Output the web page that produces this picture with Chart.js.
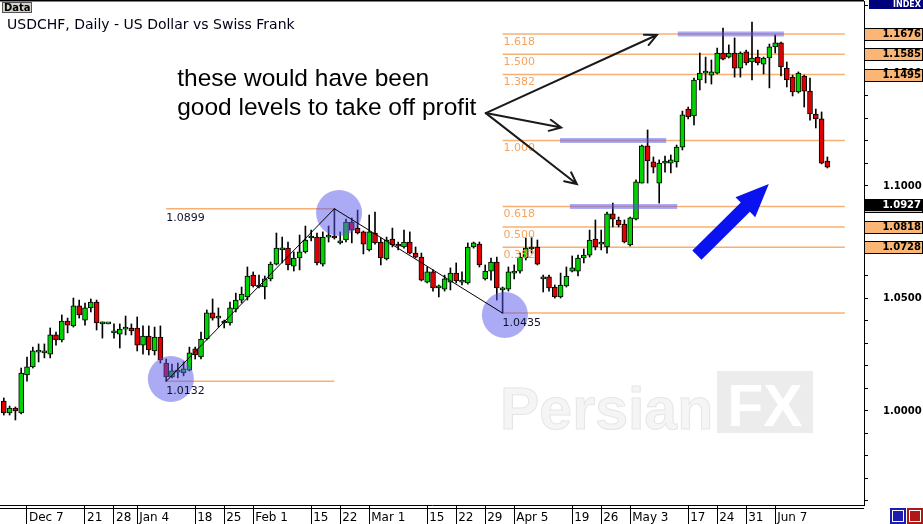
<!DOCTYPE html>
<html>
<head>
<meta charset="utf-8">
<title>USDCHF, Daily</title>
<script src="https://cdn.jsdelivr.net/npm/chart.js@4.4.1/dist/chart.umd.min.js"></script>
<style>
  html, body { margin: 0; padding: 0; background: #fff; }
  #wrap { width: 923px; height: 524px; }
</style>
</head>
<body>
<div id="wrap"><canvas id="fxChart" width="923" height="524"></canvas></div>
<script>
// one bar per trading day, bar 0 = Tue 1 Dec 2009 (no bar on 1 Jan)
var opens = [
  1.0044, 0.9991, 1.0013, 0.9991, 1.0160, 1.0196, 1.0262, 1.0258, 1.0253, 1.0338,
  1.0316, 1.0400, 1.0378, 1.0467, 1.0404, 1.0458, 1.0484, 1.0387, 1.0387, 1.0347,
  1.0342, 1.0364, 1.0369, 1.0369, 1.0293, 1.0333, 1.0267, 1.0329, 1.0213, 1.0151,
  1.0173, 1.0169, 1.0182, 1.0276, 1.0240, 1.0320, 1.0436, 1.0413, 1.0391, 1.0391,
  1.0453, 1.0493, 1.0507, 1.0604, 1.0551, 1.0551, 1.0587, 1.0653, 1.0716, 1.0724,
  1.0644, 1.0680, 1.0707, 1.0769, 1.0773, 1.0653, 1.0773, 1.0773, 1.0747, 1.0760,
  1.0840, 1.0813, 1.0796, 1.0716, 1.0791, 1.0751, 1.0676, 1.0764, 1.0738, 1.0729,
  1.0751, 1.0702, 1.0684, 1.0573, 1.0618, 1.0547, 1.0542, 1.0573, 1.0613, 1.0573,
  1.0569, 1.0729, 1.0742, 1.0587, 1.0622, 1.0662, 1.0538, 1.0542, 1.0613, 1.0622,
  1.0680, 1.0720, 1.0729, 1.0587, 1.0596, 1.0551, 1.0507, 1.0556, 1.0622, 1.0622,
  1.0680, 1.0693, 1.0764, 1.0742, 1.0729, 1.0876, 1.0849, 1.0831, 1.0738, 1.0853,
  1.1013, 1.1178, 1.1107, 1.1013, 1.1102, 1.1102, 1.1107, 1.1173, 1.1342, 1.1311,
  1.1471, 1.1502, 1.1493, 1.1502, 1.1591, 1.1573, 1.1591, 1.1524, 1.1596, 1.1551,
  1.1573, 1.1542, 1.1569, 1.1618, 1.1636, 1.1524, 1.1484, 1.1418, 1.1489, 1.1422,
  1.1320, 1.1298, 1.1111
];
var highs = [
  1.0058, 1.0022, 1.0018, 1.0191, 1.0240, 1.0284, 1.0298, 1.0298, 1.0369, 1.0351,
  1.0427, 1.0413, 1.0502, 1.0493, 1.0480, 1.0498, 1.0493, 1.0396, 1.0387, 1.0387,
  1.0387, 1.0422, 1.0387, 1.0418, 1.0378, 1.0378, 1.0373, 1.0378, 1.0231, 1.0209,
  1.0213, 1.0218, 1.0284, 1.0284, 1.0351, 1.0449, 1.0498, 1.0458, 1.0404, 1.0484,
  1.0524, 1.0551, 1.0640, 1.0618, 1.0604, 1.0600, 1.0662, 1.0791, 1.0773, 1.0751,
  1.0707, 1.0782, 1.0822, 1.0804, 1.0791, 1.0796, 1.0822, 1.0899, 1.0796, 1.0853,
  1.0858, 1.0893, 1.0800, 1.0871, 1.0884, 1.0769, 1.0773, 1.0813, 1.0751, 1.0804,
  1.0796, 1.0729, 1.0702, 1.0640, 1.0627, 1.0560, 1.0604, 1.0636, 1.0658, 1.0618,
  1.0747, 1.0751, 1.0751, 1.0649, 1.0680, 1.0684, 1.0551, 1.0640, 1.0649, 1.0702,
  1.0769, 1.0773, 1.0760, 1.0604, 1.0604, 1.0560, 1.0613, 1.0640, 1.0689, 1.0693,
  1.0720, 1.0804, 1.0849, 1.0804, 1.0884, 1.0924, 1.0862, 1.0849, 1.0862, 1.1027,
  1.1182, 1.1249, 1.1129, 1.1116, 1.1133, 1.1138, 1.1182, 1.1333, 1.1351, 1.1480,
  1.1591, 1.1573, 1.1560, 1.1613, 1.1702, 1.1627, 1.1658, 1.1596, 1.1604, 1.1729,
  1.1604, 1.1573, 1.1631, 1.1671, 1.1640, 1.1551, 1.1493, 1.1507, 1.1493, 1.1480,
  1.1342, 1.1329, 1.1129
];
var lows = [
  0.9982, 0.9982, 0.9960, 0.9987, 1.0133, 1.0191, 1.0218, 1.0236, 1.0236, 1.0293,
  1.0307, 1.0347, 1.0373, 1.0413, 1.0382, 1.0440, 1.0360, 1.0324, 1.0387, 1.0324,
  1.0280, 1.0338, 1.0338, 1.0267, 1.0253, 1.0249, 1.0249, 1.0213, 1.0132, 1.0147,
  1.0147, 1.0156, 1.0178, 1.0231, 1.0231, 1.0316, 1.0404, 1.0373, 1.0369, 1.0382,
  1.0440, 1.0480, 1.0493, 1.0551, 1.0547, 1.0498, 1.0578, 1.0649, 1.0658, 1.0627,
  1.0622, 1.0627, 1.0702, 1.0756, 1.0649, 1.0644, 1.0751, 1.0764, 1.0742, 1.0751,
  1.0747, 1.0787, 1.0698, 1.0711, 1.0742, 1.0649, 1.0671, 1.0729, 1.0716, 1.0724,
  1.0698, 1.0680, 1.0578, 1.0569, 1.0533, 1.0507, 1.0533, 1.0538, 1.0569, 1.0560,
  1.0564, 1.0724, 1.0640, 1.0582, 1.0582, 1.0493, 1.0435, 1.0533, 1.0587, 1.0613,
  1.0671, 1.0702, 1.0649, 1.0529, 1.0533, 1.0502, 1.0502, 1.0551, 1.0618, 1.0600,
  1.0658, 1.0684, 1.0716, 1.0716, 1.0702, 1.0818, 1.0818, 1.0747, 1.0733, 1.0849,
  1.1013, 1.1013, 1.1058, 1.0924, 1.1062, 1.1058, 1.1084, 1.1160, 1.1298, 1.1271,
  1.1427, 1.1458, 1.1453, 1.1498, 1.1560, 1.1569, 1.1484, 1.1484, 1.1538, 1.1471,
  1.1538, 1.1498, 1.1436, 1.1591, 1.1489, 1.1440, 1.1400, 1.1413, 1.1351, 1.1293,
  1.1258, 1.1098, 1.1080
];
var closes = [
  0.9991, 1.0013, 1.0000, 1.0169, 1.0196, 1.0267, 1.0267, 1.0262, 1.0338, 1.0316,
  1.0400, 1.0382, 1.0467, 1.0427, 1.0458, 1.0484, 1.0391, 1.0391, 1.0387, 1.0351,
  1.0364, 1.0369, 1.0356, 1.0293, 1.0333, 1.0271, 1.0329, 1.0227, 1.0151, 1.0178,
  1.0178, 1.0187, 1.0258, 1.0249, 1.0320, 1.0436, 1.0413, 1.0418, 1.0396, 1.0458,
  1.0493, 1.0520, 1.0600, 1.0556, 1.0556, 1.0587, 1.0653, 1.0724, 1.0720, 1.0649,
  1.0680, 1.0707, 1.0760, 1.0773, 1.0658, 1.0773, 1.0778, 1.0769, 1.0756, 1.0840,
  1.0804, 1.0791, 1.0742, 1.0796, 1.0747, 1.0680, 1.0760, 1.0738, 1.0733, 1.0751,
  1.0702, 1.0684, 1.0582, 1.0618, 1.0547, 1.0551, 1.0587, 1.0613, 1.0578, 1.0578,
  1.0729, 1.0747, 1.0649, 1.0622, 1.0662, 1.0547, 1.0542, 1.0618, 1.0622, 1.0684,
  1.0724, 1.0729, 1.0653, 1.0596, 1.0547, 1.0507, 1.0560, 1.0600, 1.0636, 1.0680,
  1.0693, 1.0760, 1.0729, 1.0747, 1.0876, 1.0853, 1.0827, 1.0751, 1.0858, 1.1018,
  1.1178, 1.1111, 1.1084, 1.1102, 1.1107, 1.1116, 1.1173, 1.1316, 1.1307, 1.1471,
  1.1502, 1.1507, 1.1507, 1.1591, 1.1564, 1.1591, 1.1524, 1.1591, 1.1547, 1.1569,
  1.1547, 1.1569, 1.1618, 1.1636, 1.1529, 1.1471, 1.1418, 1.1502, 1.1422, 1.1320,
  1.1298, 1.1102, 1.1084
];

// date labels on the time axis (bar index -> text)
var dayTicks = [4, 14, 19, 23, 33, 38, 43, 53, 58, 63, 73, 78, 83, 88, 98, 103, 108, 118, 123, 128, 133];
var dayLabels = ["Dec 7", "21", "28", "Jan 4", "18", "25", "Feb 1", "15", "22", "Mar 1",
                 "15", "22", "29", "Apr 5", "19", "26", "May 3", "17", "24", "31", "Jun 7"];
var priceLabels = [1.0000, 1.0500, 1.1000, 1.1500];

// swing points used for the fibonacci drawing
var swingIdx = [28, 57, 86];
var swingVals = [1.0132, 1.0899, 1.0435];

var fibRatios = ["0.382", "0.500", "0.618", "1.000", "1.382", "1.500", "1.618"];
var fibVals = [1.0728, 1.0818, 1.0909, 1.1202, 1.1495, 1.1585, 1.1676];
var axisBoxVals = [1.1676, 1.1585, 1.1495, 1.0909, 1.0818, 1.0728];
var lastPrice = 1.0927;

// hand-drawn markup, in bar index / price units
var zones = [[116.2, 134.5, 1.1676], [95.9, 114.2, 1.1202], [97.6, 116.1, 1.0909]];
var circles = [{ x: 28.8, y: 1.0142 }, { x: 57.8, y: 1.0880 }, { x: 86.4, y: 1.0427 }];
var arrowFrom = { x: 83.1, y: 1.1324 };
var arrowTo = [{ x: 112.6, y: 1.1671 }, { x: 96.1, y: 1.1260 }, { x: 98.8, y: 1.1009 }];
var trendArrow = [{ x: 119.5, y: 1.0693 }, { x: 131.9, y: 1.1009 }];
var noteLines = ["these would have been", "good levels to take off profit"];
var noteAt = { x: 29.9, y: [1.1444, 1.1316] };

var upColor = '#00d400';
var downColor = '#e00000';
var levelColor = '#f8b072';
var zoneColor = 'rgba(85, 85, 235, 0.5)';

var datasets = [];

datasets.push({
    label: 'wicks',
    type: 'bar',
    order: 7,
    grouped: false,
    data: lows.map(function (l, i) { return { x: i, y: [l, highs[i]] }; }),
    backgroundColor: '#000',
    borderWidth: 0,
    barThickness: 1
});

datasets.push({
    label: 'bodies',
    type: 'bar',
    order: 6,
    grouped: false,
    data: opens.map(function (o, i) { return { x: i, y: [o, closes[i]] }; }),
    backgroundColor: opens.map(function (o, i) { return closes[i] >= o ? upColor : downColor; }),
    borderColor: '#000',
    borderWidth: 1,
    borderSkipped: false,
    barThickness: 5,
    minBarLength: 2
});

function hLine(x1, x2, v, color, width, order) {
    return {
        type: 'line',
        order: order,
        data: [{ x: x1, y: v }, { x: x2, y: v }],
        borderColor: color,
        borderWidth: width,
        borderCapStyle: 'butt',
        pointRadius: 0,
        tension: 0
    };
}

fibVals.forEach(function (v) { datasets.push(hLine(swingIdx[2], 145, v, levelColor, 1.5, 9)); });
datasets.push(hLine(swingIdx[2], 145, swingVals[2], levelColor, 1.5, 9));
datasets.push(hLine(swingIdx[0], swingIdx[1], swingVals[0], levelColor, 1.5, 9));
datasets.push(hLine(swingIdx[0], swingIdx[1], swingVals[1], levelColor, 1.5, 9));

zones.forEach(function (z) { datasets.push(hLine(z[0], z[1], z[2], zoneColor, 5, 3)); });

datasets.push({
    type: 'scatter',
    order: 4,
    data: circles,
    pointRadius: 23,
    pointHoverRadius: 23,
    backgroundColor: zoneColor,
    borderWidth: 0
});

datasets.push({
    type: 'line',
    order: 2,
    data: swingIdx.map(function (x, i) { return { x: x, y: swingVals[i] }; }),
    borderColor: '#000',
    borderWidth: 1,
    pointRadius: 0,
    tension: 0
});

function arrowLine(ctx, x1, y1, x2, y2) {
    var a = Math.atan2(y2 - y1, x2 - x1), h = 13;
    ctx.beginPath();
    ctx.moveTo(x1, y1);
    ctx.lineTo(x2, y2);
    ctx.moveTo(x2 - h * Math.cos(a - 0.45), y2 - h * Math.sin(a - 0.45));
    ctx.lineTo(x2, y2);
    ctx.lineTo(x2 - h * Math.cos(a + 0.45), y2 - h * Math.sin(a + 0.45));
    ctx.stroke();
}

function blockArrow(ctx, x1, y1, x2, y2) {
    var a = Math.atan2(y2 - y1, x2 - x1);
    var len = Math.sqrt((x2 - x1) * (x2 - x1) + (y2 - y1) * (y2 - y1));
    var shaft = 6.5, head = 14, headLen = 33;
    ctx.save();
    ctx.translate(x1, y1);
    ctx.rotate(a);
    ctx.beginPath();
    ctx.moveTo(0, -shaft);
    ctx.lineTo(len - headLen, -shaft);
    ctx.lineTo(len - headLen, -head);
    ctx.lineTo(len, 0);
    ctx.lineTo(len - headLen, head);
    ctx.lineTo(len - headLen, shaft);
    ctx.lineTo(0, shaft);
    ctx.closePath();
    ctx.fillStyle = '#0a12f0';
    ctx.fill();
    ctx.restore();
}

var markup = {
    id: 'markup',
    beforeDatasetsDraw: function (chart) {
        var ctx = chart.ctx;
        ctx.save();
        // faint watermark
        ctx.font = 'bold 59px "Liberation Sans"';
        ctx.textBaseline = 'alphabetic';
        ctx.textAlign = 'left';
        ctx.fillStyle = '#f5f5f5';
        ctx.strokeStyle = '#e6e6e6';
        ctx.lineWidth = 1;
        ctx.fillText('Persian', 500, 429);
        ctx.strokeText('Persian', 500, 429);
        ctx.fillStyle = '#ececec';
        ctx.fillRect(717, 371, 96, 62);
        ctx.fillStyle = '#ffffff';
        ctx.textAlign = 'center';
        ctx.fillText('FX', 765, 426);
        ctx.restore();
    },
    afterDatasetsDraw: function (chart) {
        var ctx = chart.ctx, xs = chart.scales.x, ys = chart.scales.y;
        ctx.save();
        ctx.textBaseline = 'middle';
        ctx.textAlign = 'left';

        // swing level prices
        ctx.font = '11px "DejaVu Sans"';
        ctx.fillStyle = '#10102a';
        ctx.fillText(swingVals[1].toFixed(4), xs.getPixelForValue(swingIdx[0]), ys.getPixelForValue(swingVals[1]) + 9);
        ctx.fillText(swingVals[0].toFixed(4), xs.getPixelForValue(swingIdx[0]), ys.getPixelForValue(swingVals[0]) + 10);
        ctx.fillText(swingVals[2].toFixed(4), xs.getPixelForValue(swingIdx[2]), ys.getPixelForValue(swingVals[2]) + 10);

        // fibonacci ratios
        ctx.fillStyle = '#f7a35e';
        fibVals.forEach(function (v, i) {
            ctx.fillText(fibRatios[i], xs.getPixelForValue(swingIdx[2]) + 1, ys.getPixelForValue(v) + 8);
        });

        // comment and arrows
        ctx.fillStyle = '#000';
        ctx.font = '24.5px "Liberation Sans"';
        ctx.textBaseline = 'alphabetic';
        noteLines.forEach(function (t, i) {
            ctx.fillText(t, xs.getPixelForValue(noteAt.x), ys.getPixelForValue(noteAt.y[i]));
        });

        ctx.strokeStyle = '#1a1a1a';
        ctx.lineWidth = 2;
        ctx.lineCap = 'round';
        var fx = xs.getPixelForValue(arrowFrom.x), fy = ys.getPixelForValue(arrowFrom.y);
        arrowTo.forEach(function (p) {
            arrowLine(ctx, fx, fy, xs.getPixelForValue(p.x), ys.getPixelForValue(p.y));
        });

        blockArrow(ctx,
            xs.getPixelForValue(trendArrow[0].x), ys.getPixelForValue(trendArrow[0].y),
            xs.getPixelForValue(trendArrow[1].x), ys.getPixelForValue(trendArrow[1].y));
        ctx.restore();
    },
    afterDraw: function (chart) {
        var ctx = chart.ctx, ys = chart.scales.y, area = chart.chartArea;
        ctx.save();

        // price boxes on the right axis
        ctx.font = 'bold 10px "DejaVu Sans"';
        ctx.textAlign = 'right';
        ctx.textBaseline = 'middle';
        ctx.lineWidth = 1;
        axisBoxVals.forEach(function (v) {
            var py = Math.round(ys.getPixelForValue(v));
            ctx.fillStyle = '#fbb574';
            ctx.fillRect(area.right + 0.5, py - 5.5, 58, 12);
            ctx.strokeStyle = '#000';
            ctx.strokeRect(area.right + 0.5, py - 5.5, 58, 12);
            ctx.fillStyle = '#000';
            ctx.fillText(v.toFixed(4), 921, py + 0.5);
        });
        var lp = Math.round(ys.getPixelForValue(lastPrice)) + 3;
        ctx.fillStyle = '#000';
        ctx.fillRect(area.right + 0.5, lp - 6, 58.5, 12);
        ctx.fillStyle = '#fff';
        ctx.fillText(lastPrice.toFixed(4), 921, lp);

        // INDEX tag
        ctx.fillStyle = '#00007c';
        ctx.fillRect(869, 0, 54, 9);
        ctx.fillStyle = '#fff';
        ctx.font = 'bold 8px "DejaVu Sans"';
        ctx.fillText('INDEX', 921, 4.5);

        // frame lines
        ctx.strokeStyle = '#000';
        ctx.lineWidth = 1.5;
        ctx.beginPath();
        ctx.moveTo(0, 0.75);
        ctx.lineTo(area.right, 0.75);
        ctx.stroke();
        ctx.lineWidth = 1;
        ctx.beginPath();
        ctx.moveTo(0, area.bottom + 3.5);
        ctx.lineTo(area.right, area.bottom + 3.5);
        ctx.stroke();

        // header
        ctx.fillStyle = '#d6d3cc';
        ctx.fillRect(2, 2, 30, 11);
        ctx.strokeStyle = '#555';
        ctx.strokeRect(2.5, 2.5, 29, 10);
        ctx.fillStyle = '#000';
        ctx.textAlign = 'left';
        ctx.font = 'bold 10px "DejaVu Sans"';
        ctx.fillText('Data', 4, 8);
        ctx.textBaseline = 'alphabetic';
        ctx.font = '14px "DejaVu Sans"';
        ctx.fillStyle = '#000014';
        ctx.fillText('USDCHF, Daily - US Dollar vs Swiss Frank', 7, 29);

        // scroll buttons
        ctx.fillStyle = '#1c1cae';
        ctx.fillRect(890, 508, 16, 16);
        ctx.fillStyle = '#b01818';
        ctx.fillRect(907, 508, 16, 16);
        ctx.strokeStyle = '#fff';
        ctx.strokeRect(892.5, 510.5, 11, 11);
        ctx.strokeRect(909.5, 510.5, 11, 11);
        ctx.restore();
    }
};

var fxChart = new Chart(document.getElementById('fxChart'), {
    type: 'bar',
    data: { datasets: datasets },
    plugins: [markup],
    options: {
        responsive: false,
        animation: false,
        events: [],
        layout: { autoPadding: false, padding: { top: 1, left: 0, right: 0, bottom: 0 } },
        plugins: { legend: { display: false }, tooltip: { enabled: false } },
        scales: {
            x: {
                type: 'linear',
                position: 'bottom',
                min: -0.655,
                max: 148.31,
                bounds: 'data',
                offset: false,
                grid: { offset: false, drawOnChartArea: false, drawTicks: true, tickLength: 19, color: '#000' },
                border: { display: true, color: '#000', width: 1 },
                ticks: {
                    autoSkip: false,
                    maxRotation: 0,
                    minRotation: 0,
                    align: 'start',
                    labelOffset: 2,
                    padding: -13,
                    color: '#000',
                    font: { family: 'DejaVu Sans', size: 12 },
                    callback: function (v) {
                        var k = dayTicks.indexOf(v);
                        return k >= 0 ? dayLabels[k] : '';
                    }
                },
                afterBuildTicks: function (scale) {
                    scale.ticks = dayTicks.map(function (v) { return { value: v }; });
                },
                afterFit: function (scale) {
                    scale.height = 19;
                    scale.paddingLeft = 0;
                    scale.paddingRight = 0;
                }
            },
            y: {
                type: 'linear',
                position: 'right',
                min: 0.95822,
                max: 1.18222,
                bounds: 'data',
                beginAtZero: false,
                grid: { drawOnChartArea: false, drawTicks: true, tickLength: 4, color: '#000' },
                border: { display: true, color: '#000', width: 1 },
                ticks: {
                    autoSkip: false,
                    padding: 15,
                    color: '#000',
                    font: { family: 'DejaVu Sans', size: 10, weight: 'bold' },
                    callback: function (v) {
                        for (var k = 0; k < priceLabels.length; k++) {
                            if (Math.abs(priceLabels[k] - v) < 1e-6) { return priceLabels[k].toFixed(4); }
                        }
                        return '';
                    }
                },
                afterBuildTicks: function (scale) {
                    var t = [];
                    for (var c = 96; c <= 118; c++) { t.push({ value: c / 100 }); }
                    scale.ticks = t;
                },
                afterFit: function (scale) {
                    scale.width = 59;
                    scale.paddingTop = 0;
                    scale.paddingBottom = 0;
                }
            }
        }
    }
});
</script>
</body>
</html>
